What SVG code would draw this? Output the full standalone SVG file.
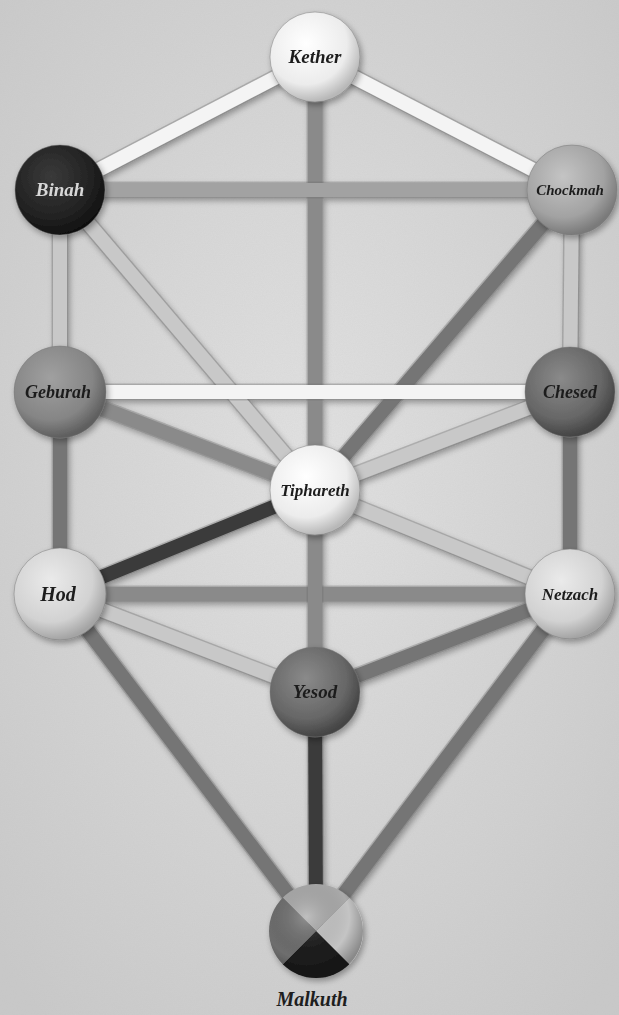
<svg xmlns="http://www.w3.org/2000/svg" width="619" height="1015" viewBox="0 0 619 1015">
<defs>
<filter id="tex" x="0" y="0" width="100%" height="100%">
<feTurbulence type="fractalNoise" baseFrequency="0.9" numOctaves="2" seed="3" result="n"/>
<feColorMatrix in="n" type="matrix" values="0 0 0 0 0.5  0 0 0 0 0.5  0 0 0 0 0.5  0 0 0 0.18 0"/>
</filter>
<filter id="sh" x="-20%" y="-20%" width="140%" height="140%">
<feGaussianBlur in="SourceAlpha" stdDeviation="3"/>
<feOffset dx="2" dy="3" result="b"/>
<feComponentTransfer><feFuncA type="linear" slope="0.35"/></feComponentTransfer>
<feMerge><feMergeNode/><feMergeNode in="SourceGraphic"/></feMerge>
</filter>
<radialGradient id="bg" cx="50%" cy="45%" r="70%">
<stop offset="0" stop-color="#e2e2e2"/><stop offset="1" stop-color="#c9c9c9"/>
</radialGradient>
<radialGradient id="gW" cx="40%" cy="35%" r="65%"><stop offset="0" stop-color="#ffffff"/><stop offset="0.7" stop-color="#ececec"/><stop offset="1" stop-color="#b8b8b8"/></radialGradient>
<radialGradient id="gBk" cx="40%" cy="35%" r="65%"><stop offset="0" stop-color="#3a3a3a"/><stop offset="0.7" stop-color="#222"/><stop offset="1" stop-color="#111"/></radialGradient>
<radialGradient id="gM" cx="40%" cy="35%" r="65%"><stop offset="0" stop-color="#c4c4c4"/><stop offset="0.7" stop-color="#a2a2a2"/><stop offset="1" stop-color="#7a7a7a"/></radialGradient>
<radialGradient id="gG" cx="40%" cy="35%" r="65%"><stop offset="0" stop-color="#a0a0a0"/><stop offset="0.7" stop-color="#858585"/><stop offset="1" stop-color="#5e5e5e"/></radialGradient>
<radialGradient id="gD" cx="40%" cy="35%" r="65%"><stop offset="0" stop-color="#8a8a8a"/><stop offset="0.7" stop-color="#666"/><stop offset="1" stop-color="#444"/></radialGradient>
<radialGradient id="gL" cx="40%" cy="35%" r="65%"><stop offset="0" stop-color="#eaeaea"/><stop offset="0.7" stop-color="#d2d2d2"/><stop offset="1" stop-color="#a4a4a4"/></radialGradient>
<clipPath id="mc"><circle cx="316" cy="931" r="47"/></clipPath>
<radialGradient id="gShade" cx="40%" cy="35%" r="65%"><stop offset="0" stop-color="#fff" stop-opacity="0.25"/><stop offset="0.7" stop-color="#000" stop-opacity="0"/><stop offset="1" stop-color="#000" stop-opacity="0.3"/></radialGradient>
</defs>
<style>
.edge{stroke:#666;stroke-width:17;stroke-linecap:butt;stroke-opacity:0.35}
.p{stroke-width:14;stroke-linecap:butt}
.c1{stroke:#f4f4f4}
.c2{stroke:#c8c8c8}
.c3{stroke:#a2a2a2}
.c4{stroke:#8a8a8a}
.c5{stroke:#747474}
.c6{stroke:#3a3a3a}
.lbl{font-family:"Liberation Serif",serif;font-style:italic;font-weight:bold;font-size:19px;text-anchor:middle;fill:#1e1e1e}
.ring{stroke:#777;stroke-width:1;stroke-opacity:0.5}
</style>
<rect width="619" height="1015" fill="url(#bg)"/>
<rect width="619" height="1015" filter="url(#tex)"/>
<g id="connectors" filter="url(#sh)">
<line class="edge" x1="315" y1="57" x2="60" y2="190"/><line class="p c1" x1="315" y1="57" x2="60" y2="190"/>
<line class="edge" x1="315" y1="57" x2="572" y2="190"/><line class="p c1" x1="315" y1="57" x2="572" y2="190"/>
<line class="edge" x1="315" y1="57" x2="315" y2="490"/><line class="p c4" x1="315" y1="57" x2="315" y2="490"/>
<line class="edge" x1="60" y1="190" x2="572" y2="190"/><line class="p c3" x1="60" y1="190" x2="572" y2="190"/>
<line class="edge" x1="60" y1="190" x2="60" y2="392"/><line class="p c2" x1="60" y1="190" x2="60" y2="392"/>
<line class="edge" x1="572" y1="190" x2="570" y2="392"/><line class="p c2" x1="572" y1="190" x2="570" y2="392"/>
<line class="edge" x1="60" y1="190" x2="315" y2="490"/><line class="p c2" x1="60" y1="190" x2="315" y2="490"/>
<line class="edge" x1="572" y1="190" x2="315" y2="490"/><line class="p c5" x1="572" y1="190" x2="315" y2="490"/>
<line class="edge" x1="60" y1="392" x2="570" y2="392"/><line class="p c1" x1="60" y1="392" x2="570" y2="392"/>
<line class="edge" x1="60" y1="392" x2="315" y2="490"/><line class="p c4" x1="60" y1="392" x2="315" y2="490"/>
<line class="edge" x1="570" y1="392" x2="315" y2="490"/><line class="p c2" x1="570" y1="392" x2="315" y2="490"/>
<line class="edge" x1="60" y1="392" x2="60" y2="594"/><line class="p c5" x1="60" y1="392" x2="60" y2="594"/>
<line class="edge" x1="570" y1="392" x2="570" y2="594"/><line class="p c5" x1="570" y1="392" x2="570" y2="594"/>
<line class="edge" x1="315" y1="490" x2="60" y2="594"/><line class="p c6" x1="315" y1="490" x2="60" y2="594"/>
<line class="edge" x1="315" y1="490" x2="570" y2="594"/><line class="p c2" x1="315" y1="490" x2="570" y2="594"/>
<line class="edge" x1="60" y1="594" x2="570" y2="594"/><line class="p c4" x1="60" y1="594" x2="570" y2="594"/>
<line class="edge" x1="60" y1="594" x2="315" y2="692"/><line class="p c2" x1="60" y1="594" x2="315" y2="692"/>
<line class="edge" x1="570" y1="594" x2="315" y2="692"/><line class="p c5" x1="570" y1="594" x2="315" y2="692"/>
<line class="edge" x1="315" y1="490" x2="315" y2="692"/><line class="p c4" x1="315" y1="490" x2="315" y2="692"/>
<line class="edge" x1="60" y1="594" x2="316" y2="931"/><line class="p c5" x1="60" y1="594" x2="316" y2="931"/>
<line class="edge" x1="570" y1="594" x2="316" y2="931"/><line class="p c5" x1="570" y1="594" x2="316" y2="931"/>
<line class="edge" x1="315" y1="692" x2="316" y2="931"/><line class="p c6" x1="315" y1="692" x2="316" y2="931"/>
</g>
<g id="kether" filter="url(#sh)"><circle class="ring" cx="315" cy="57" r="45" fill="url(#gW)"/><text class="lbl" x="315" y="63">Kether</text></g>
<g id="binah" filter="url(#sh)"><circle class="ring" cx="60" cy="190" r="45" fill="url(#gBk)"/><text class="lbl" x="60" y="196" style="fill:#d8d8d8">Binah</text></g>
<g id="chockmah" filter="url(#sh)"><circle class="ring" cx="572" cy="190" r="45" fill="url(#gM)"/><text class="lbl" x="570" y="195" style="font-size:15px">Chockmah</text></g>
<g id="geburah" filter="url(#sh)"><circle class="ring" cx="60" cy="392" r="46" fill="url(#gG)"/><text class="lbl" x="58" y="398" style="font-size:18px">Geburah</text></g>
<g id="chesed" filter="url(#sh)"><circle class="ring" cx="570" cy="392" r="45" fill="url(#gD)"/><text class="lbl" x="570" y="398" style="font-size:18px">Chesed</text></g>
<g id="tiphareth" filter="url(#sh)"><circle class="ring" cx="315" cy="490" r="45" fill="url(#gW)"/><text class="lbl" x="315" y="496" style="font-size:17px">Tiphareth</text></g>
<g id="hod" filter="url(#sh)"><circle class="ring" cx="60" cy="594" r="46" fill="url(#gL)"/><text class="lbl" x="58" y="601" style="font-size:20px">Hod</text></g>
<g id="netzach" filter="url(#sh)"><circle class="ring" cx="570" cy="594" r="45" fill="url(#gL)"/><text class="lbl" x="570" y="600" style="font-size:17px">Netzach</text></g>
<g id="yesod" filter="url(#sh)"><circle class="ring" cx="315" cy="692" r="45" fill="url(#gD)"/><text class="lbl" x="315" y="698">Yesod</text></g>
<g id="malkuth">
<g filter="url(#sh)">
<g clip-path="url(#mc)">
<polygon points="316,931 260,875 372,875" fill="#aaaaaa"/>
<polygon points="316,931 372,875 372,987" fill="#c4c4c4"/>
<polygon points="316,931 372,987 260,987" fill="#1c1c1c"/>
<polygon points="316,931 260,987 260,875" fill="#6e6e6e"/>
<circle cx="316" cy="931" r="47" fill="url(#gShade)"/>
</g>
</g>
<text class="lbl" x="312" y="1006" style="font-size:20px">Malkuth</text>
</g>
</svg>
